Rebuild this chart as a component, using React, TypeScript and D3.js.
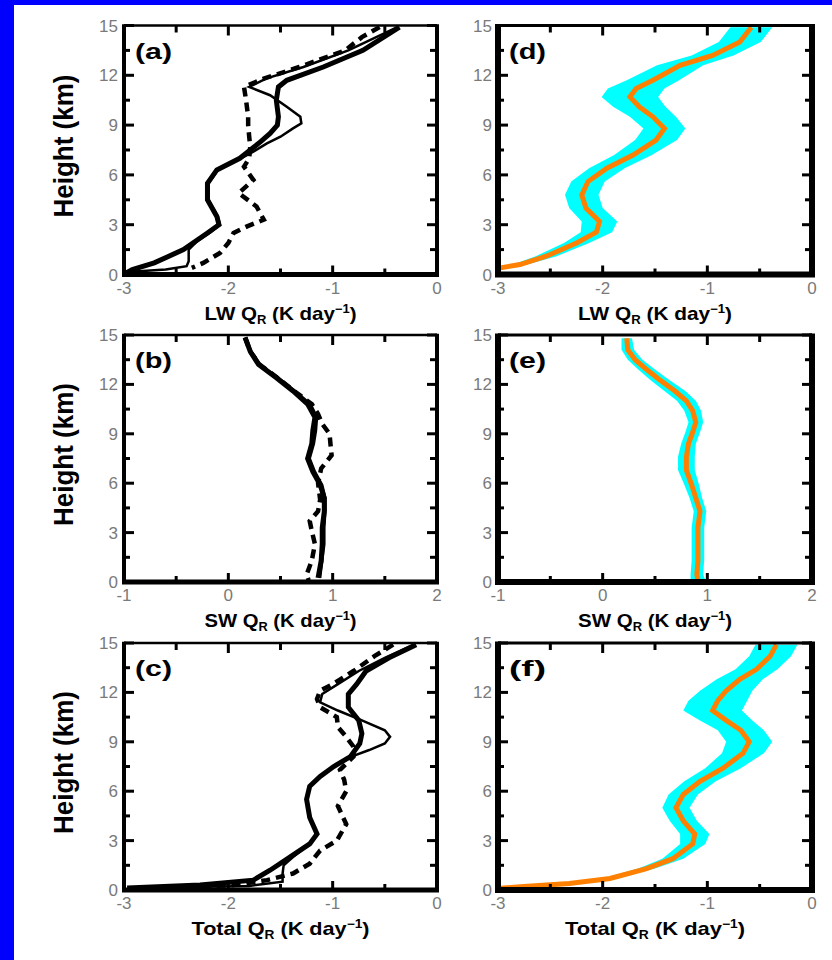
import React from 'react';
import * as d3 from 'd3';

const BLUE = '#0000ff';
const ORANGE = '#ff8000';
const CYAN = '#00ffff';
const GRAY = '#7a7a7a';

const Y_TICKS = [0, 3, 6, 9, 12, 15];
const X_TICKS_LW = [-3, -2, -1, 0];
const X_TICKS_SW = [-1, 0, 1, 2];
const X_TICKS_TOT = [-3, -2, -1, 0];

// (a) LW, model/observation profiles
const A_THICK_H = [14.9, 13.5, 12.5, 11.7, 11.3, 10.5, 9.5, 9.0, 8.5, 8.0, 7.0, 6.3, 5.5, 4.5, 3.5, 3.0, 2.5, 1.5, 0.7, 0.3, 0.1];
const A_THICK_V = [-0.36, -0.71, -1.09, -1.44, -1.52, -1.54, -1.52, -1.53, -1.6, -1.69, -1.89, -2.11, -2.2, -2.2, -2.11, -2.09, -2.2, -2.43, -2.71, -2.92, -2.98];
const A_THIN_H = [14.9, 13.5, 12.5, 11.8, 11.3, 10.8, 10.1, 9.5, 9.1, 8.8, 8.3, 7.9, 7.4, 7.0, 6.3, 5.5, 4.5, 3.5, 3.0, 2.5, 2.0, 1.5, 0.8, 0.5, 0.3, 0.15];
const A_THIN_V = [-0.38, -0.85, -1.28, -1.64, -1.8, -1.6, -1.44, -1.31, -1.3, -1.38, -1.5, -1.63, -1.76, -1.88, -2.1, -2.19, -2.19, -2.1, -2.08, -2.18, -2.3, -2.38, -2.38, -2.4, -2.6, -2.97];
const A_DASH_H = [14.9, 14.3, 13.5, 12.5, 11.8, 11.3, 10.5, 9.5, 9.0, 8.3, 7.7, 7.0, 6.5, 5.7, 4.9, 4.1, 3.3, 2.9, 2.5, 1.9, 1.3, 0.7, 0.4];
const A_DASH_V = [-0.55, -0.72, -0.88, -1.32, -1.66, -1.85, -1.83, -1.81, -1.81, -1.8, -1.79, -1.8, -1.85, -1.76, -1.9, -1.73, -1.66, -1.82, -1.95, -2.0, -2.08, -2.24, -2.35];

// (b) SW
const B_THICK_H = [14.85, 14.0, 13.2, 12.4, 11.6, 10.8, 10.0, 9.2, 8.4, 7.5, 6.7, 5.9, 5.1, 4.3, 3.3, 2.3, 1.3, 0.25];
const B_THICK_V = [0.16, 0.21, 0.29, 0.46, 0.62, 0.76, 0.83, 0.81, 0.8, 0.76, 0.81, 0.88, 0.92, 0.92, 0.9, 0.9, 0.89, 0.86];
const B_THIN_H = [14.85, 14.0, 13.2, 12.4, 11.6, 10.8, 10.0, 9.2, 8.4, 7.5, 6.7, 5.9, 5.1, 4.3, 3.3, 2.3, 1.3, 0.25];
const B_THIN_V = [0.17, 0.22, 0.31, 0.48, 0.64, 0.79, 0.85, 0.84, 0.82, 0.78, 0.83, 0.9, 0.93, 0.93, 0.92, 0.92, 0.9, 0.88];
const B_DASH_H = [14.85, 14.0, 13.2, 12.4, 11.6, 10.8, 10.2, 9.6, 9.0, 8.3, 7.7, 6.9, 6.0, 5.0, 4.3, 3.7, 3.1, 2.3, 1.3, 0.45, 0.1];
const B_DASH_V = [0.16, 0.21, 0.3, 0.47, 0.63, 0.8, 0.86, 0.9, 0.97, 0.98, 0.99, 0.89, 0.86, 0.88, 0.86, 0.78, 0.8, 0.83, 0.8, 0.75, 0.77];

// (c) Total
const C_THICK_H = [14.9, 14.1, 13.3, 12.5, 11.9, 11.1, 10.3, 9.5, 8.9, 8.1, 7.5, 6.9, 6.3, 5.5, 4.4, 3.4, 2.8, 2.0, 1.2, 0.6, 0.3, 0.12];
const C_THICK_V = [-0.2, -0.46, -0.68, -0.77, -0.85, -0.85, -0.75, -0.72, -0.74, -0.83, -0.99, -1.12, -1.22, -1.25, -1.22, -1.15, -1.22, -1.41, -1.6, -1.76, -2.27, -2.97];
const C_THIN_H = [14.9, 14.1, 13.3, 12.5, 11.9, 11.4, 10.9, 10.3, 9.7, 9.3, 8.9, 8.5, 8.1, 7.5, 6.9, 6.3, 5.5, 4.4, 3.4, 2.8, 2.0, 1.5, 1.0, 0.5, 0.25, 0.12];
const C_THIN_V = [-0.22, -0.5, -0.75, -0.95, -1.1, -1.12, -0.95, -0.72, -0.5, -0.45, -0.5, -0.65, -0.82, -0.99, -1.12, -1.22, -1.25, -1.22, -1.15, -1.22, -1.38, -1.47, -1.48, -1.48, -1.8, -2.95];
const C_DASH_H = [14.9, 14.2, 13.3, 12.5, 12.1, 11.6, 11.1, 10.5, 9.9, 9.3, 8.7, 8.1, 7.3, 6.7, 6.0, 5.1, 4.0, 3.0, 2.4, 1.6, 1.0, 0.6, 0.3, 0.12];
const C_DASH_V = [-0.42, -0.6, -0.8, -1.0, -1.12, -1.15, -1.12, -0.96, -0.95, -0.87, -0.8, -0.8, -0.93, -0.89, -0.87, -0.95, -0.87, -0.96, -1.12, -1.22, -1.38, -1.63, -1.95, -2.6];

// (d) LW ensemble mean and spread
const D_H = [14.9, 14.0, 13.2, 12.6, 11.7, 11.2, 10.7, 10.1, 9.5, 8.8, 8.1, 7.2, 6.4, 5.6, 4.8, 4.0, 3.2, 2.55, 1.9, 1.1, 0.6, 0.4];
const D_MEAN = [-0.58, -0.69, -0.95, -1.26, -1.52, -1.68, -1.74, -1.65, -1.52, -1.41, -1.49, -1.71, -1.96, -2.14, -2.2, -2.16, -2.03, -2.06, -2.25, -2.54, -2.79, -2.98];
const D_SPREAD = [0.2, 0.2, 0.2, 0.22, 0.25, 0.27, 0.27, 0.25, 0.22, 0.2, 0.2, 0.18, 0.17, 0.16, 0.16, 0.16, 0.17, 0.15, 0.12, 0.1, 0.07, 0.05];

// (e) SW
const E_H = [14.8, 14.1, 13.5, 12.9, 12.3, 11.6, 11.0, 10.4, 9.7, 9.1, 8.4, 7.6, 6.8, 5.9, 5.1, 4.3, 3.3, 2.3, 1.3, 0.45, 0.1];
const E_MEAN = [0.23, 0.24, 0.31, 0.42, 0.54, 0.69, 0.8, 0.86, 0.89, 0.86, 0.82, 0.8, 0.8, 0.85, 0.89, 0.93, 0.91, 0.91, 0.91, 0.9, 0.91];
const E_SPREAD = [0.05, 0.06, 0.07, 0.08, 0.09, 0.1, 0.09, 0.08, 0.07, 0.07, 0.07, 0.08, 0.08, 0.07, 0.06, 0.06, 0.06, 0.06, 0.06, 0.06, 0.07];

// (f) Total
const F_H = [14.9, 14.2, 13.4, 12.8, 12.1, 11.5, 10.9, 10.3, 9.7, 9.0, 8.3, 7.4, 6.6, 5.8, 5.0, 4.2, 3.4, 2.8, 1.9, 1.3, 0.7, 0.4, 0.2, 0.1];
const F_MEAN = [-0.34, -0.4, -0.53, -0.69, -0.82, -0.9, -0.95, -0.82, -0.68, -0.6, -0.66, -0.85, -1.07, -1.23, -1.3, -1.23, -1.12, -1.14, -1.33, -1.58, -1.93, -2.32, -2.79, -2.98];
const F_SPREAD = [0.2, 0.2, 0.2, 0.22, 0.25, 0.28, 0.28, 0.25, 0.22, 0.22, 0.2, 0.17, 0.15, 0.14, 0.13, 0.13, 0.14, 0.12, 0.1, 0.08, 0.07, 0.06, 0.05, 0.04];

type LineSpec = { h: number[]; v: number[]; kind: 'thick' | 'thin' | 'dash' };
type BandSpec = { h: number[]; m: number[]; s: number[] };

type PanelProps = {
  id: string;
  x0: number; x1: number; y0: number; y1: number;
  xTicks: number[];
  letter: string;
  prefix: string;
  titleLen: number;
  side: 'left' | 'right';
  lines?: LineSpec[];
  band?: BandSpec;
};

const FONT = '"Liberation Sans", Arial, sans-serif';

function Panel(p: PanelProps) {
  const x = d3.scaleLinear().domain([p.xTicks[0], p.xTicks[p.xTicks.length - 1]]).range([p.x0, p.x1]);
  const y = d3.scaleLinear().domain([0, 15]).range([p.y1, p.y0]);
  const heavy = p.side === 'right';
  const sw = heavy ? 6 : 4;
  const bw = heavy ? 6 : 5;
  const tw = heavy ? 3 : 2.5;

  const xMinor: number[] = [];
  for (let i = 0; i < p.xTicks.length - 1; i++) xMinor.push((p.xTicks[i] + p.xTicks[i + 1]) / 2);
  const yMinor: number[] = [];
  for (let i = 0; i < Y_TICKS.length - 1; i++) yMinor.push((Y_TICKS[i] + Y_TICKS[i + 1]) / 2);

  const lineGen = d3.line<[number, number]>().x(d => x(d[1])).y(d => y(d[0]));
  const areaGen = d3.area<[number, number, number]>()
    .y(d => y(d[0]))
    .x0(d => x(d[1] - d[2]))
    .x1(d => x(d[1] + d[2]));

  const cx = (p.x0 + p.x1) / 2;
  const clipId = 'clip-' + p.id;

  return (
    <g>
      <defs>
        <clipPath id={clipId}>
          <rect x={p.x0} y={p.y0} width={p.x1 - p.x0} height={p.y1 - p.y0} />
        </clipPath>
      </defs>
      <g clipPath={`url(#${clipId})`}>
        {p.band && (
          <>
            <path d={areaGen(p.band.h.map((h, i) => [h, p.band!.m[i], p.band!.s[i]] as [number, number, number])) || ''} fill={CYAN} />
            <path d={lineGen(p.band.h.map((h, i) => [h, p.band!.m[i]] as [number, number])) || ''} fill="none" stroke={ORANGE} strokeWidth={5} strokeLinejoin="miter" />
          </>
        )}
        {p.lines && p.lines.map((l, k) => (
          <path key={k}
            d={lineGen(l.h.map((h, i) => [h, l.v[i]] as [number, number])) || ''}
            fill="none" stroke="#000"
            strokeWidth={l.kind === 'thick' ? 5 : l.kind === 'thin' ? 2.5 : 4.5}
            strokeDasharray={l.kind === 'dash' ? '9,6' : undefined} />
        ))}
      </g>
      {/* ticks */}
      {p.xTicks.map(t => (
        <g key={'xt' + t}>
          <line x1={x(t)} x2={x(t)} y1={p.y1} y2={p.y1 - 9} stroke="#000" strokeWidth={3} />
          <line x1={x(t)} x2={x(t)} y1={p.y0} y2={p.y0 + 10} stroke="#000" strokeWidth={3} />
        </g>
      ))}
      {xMinor.map(t => (
        <g key={'xm' + t}>
          <line x1={x(t)} x2={x(t)} y1={p.y1} y2={p.y1 - 6} stroke="#000" strokeWidth={3} />
          <line x1={x(t)} x2={x(t)} y1={p.y0} y2={p.y0 + 7} stroke="#000" strokeWidth={3} />
        </g>
      ))}
      {Y_TICKS.map(t => (
        <g key={'yt' + t}>
          <line x1={p.x0} x2={p.x0 + 10} y1={y(t)} y2={y(t)} stroke="#000" strokeWidth={3} />
          <line x1={p.x1} x2={p.x1 - 10} y1={y(t)} y2={y(t)} stroke="#000" strokeWidth={3} />
        </g>
      ))}
      {yMinor.map(t => (
        <g key={'ym' + t}>
          <line x1={p.x0} x2={p.x0 + 6} y1={y(t)} y2={y(t)} stroke="#000" strokeWidth={3} />
          <line x1={p.x1} x2={p.x1 - 7} y1={y(t)} y2={y(t)} stroke="#000" strokeWidth={3} />
        </g>
      ))}
      {/* frame */}
      <line x1={p.x0} x2={p.x1} y1={p.y0} y2={p.y0} stroke="#000" strokeWidth={tw} />
      <line x1={p.x0 - sw / 2} x2={p.x1 + sw / 2} y1={p.y1} y2={p.y1} stroke="#000" strokeWidth={bw} />
      <line x1={p.x0} x2={p.x0} y1={p.y0 - tw / 2} y2={p.y1} stroke="#000" strokeWidth={sw} />
      <line x1={p.x1} x2={p.x1} y1={p.y0 - tw / 2} y2={p.y1} stroke="#000" strokeWidth={sw} />
      {/* tick labels */}
      {p.xTicks.map(t => (
        <text key={'xl' + t} x={x(t)} y={p.y1 + 19} textAnchor="middle" fontFamily={FONT} fontSize={17} fill={GRAY}>{String(t)}</text>
      ))}
      {Y_TICKS.map(t => (
        <text key={'yl' + t} x={p.x0 - 6} y={y(t) + 6} textAnchor="end" fontFamily={FONT} fontSize={17} fill={GRAY}>{String(t)}</text>
      ))}
      {/* panel letter */}
      <text x={p.x0 + 11} y={p.y0 + 33} fontFamily={FONT} fontWeight="bold" fontSize={22} fill="#000" textLength={37} lengthAdjust="spacingAndGlyphs">{`(${p.letter})`}</text>
      {/* x title */}
      <text x={cx} y={p.y1 + 45} textAnchor="middle" fontFamily={FONT} fontWeight="bold" fontSize={19} fill="#000" textLength={p.titleLen} lengthAdjust="spacingAndGlyphs">
        {p.prefix} Q<tspan fontSize={12} dy={4}>R</tspan><tspan dy={-4}> (K day</tspan><tspan fontSize={12} dy={-7}>−1</tspan><tspan dy={7}>)</tspan>
      </text>
      {/* y title */}
      {p.side === 'left' && (
        <text transform={`translate(73,${(p.y0 + p.y1) / 2 - 4}) rotate(-90)`} textAnchor="middle" fontFamily={FONT} fontWeight="bold" fontSize={27} fill="#000" textLength={143} lengthAdjust="spacingAndGlyphs">Height (km)</text>
      )}
    </g>
  );
}

export default function App() {
  const L = { x0: 124, x1: 437 };
  const R = { x0: 498, x1: 812 };
  const rows = [
    { y0: 25.5, y1: 274.5 },
    { y0: 335, y1: 582 },
    { y0: 643, y1: 890 },
  ];
  return (
    <svg width={832} height={960} style={{ position: 'absolute', left: 0, top: 0, background: '#fff' }}>
      <rect x={0} y={0} width={832} height={960} fill="#fff" />
      <rect x={0} y={0} width={14} height={960} fill={BLUE} />
      <rect x={0} y={0} width={832} height={5} fill={BLUE} />

      <Panel id="a" {...L} {...rows[0]} xTicks={X_TICKS_LW} letter="a" prefix="LW" titleLen={152} side="left"
        lines={[
          { h: A_DASH_H, v: A_DASH_V, kind: 'dash' },
          { h: A_THIN_H, v: A_THIN_V, kind: 'thin' },
          { h: A_THICK_H, v: A_THICK_V, kind: 'thick' },
        ]} />
      <Panel id="b" {...L} {...rows[1]} xTicks={X_TICKS_SW} letter="b" prefix="SW" titleLen={152} side="left"
        lines={[
          { h: B_DASH_H, v: B_DASH_V, kind: 'dash' },
          { h: B_THIN_H, v: B_THIN_V, kind: 'thin' },
          { h: B_THICK_H, v: B_THICK_V, kind: 'thick' },
        ]} />
      <Panel id="c" {...L} {...rows[2]} xTicks={X_TICKS_TOT} letter="c" prefix="Total" titleLen={178} side="left"
        lines={[
          { h: C_DASH_H, v: C_DASH_V, kind: 'dash' },
          { h: C_THIN_H, v: C_THIN_V, kind: 'thin' },
          { h: C_THICK_H, v: C_THICK_V, kind: 'thick' },
        ]} />
      <Panel id="d" {...R} {...rows[0]} xTicks={X_TICKS_LW} letter="d" prefix="LW" titleLen={154} side="right"
        band={{ h: D_H, m: D_MEAN, s: D_SPREAD }} />
      <Panel id="e" {...R} {...rows[1]} xTicks={X_TICKS_SW} letter="e" prefix="SW" titleLen={154} side="right"
        band={{ h: E_H, m: E_MEAN, s: E_SPREAD }} />
      <Panel id="f" {...R} {...rows[2]} xTicks={X_TICKS_TOT} letter="f" prefix="Total" titleLen={180} side="right"
        band={{ h: F_H, m: F_MEAN, s: F_SPREAD }} />
    </svg>
  );
}
